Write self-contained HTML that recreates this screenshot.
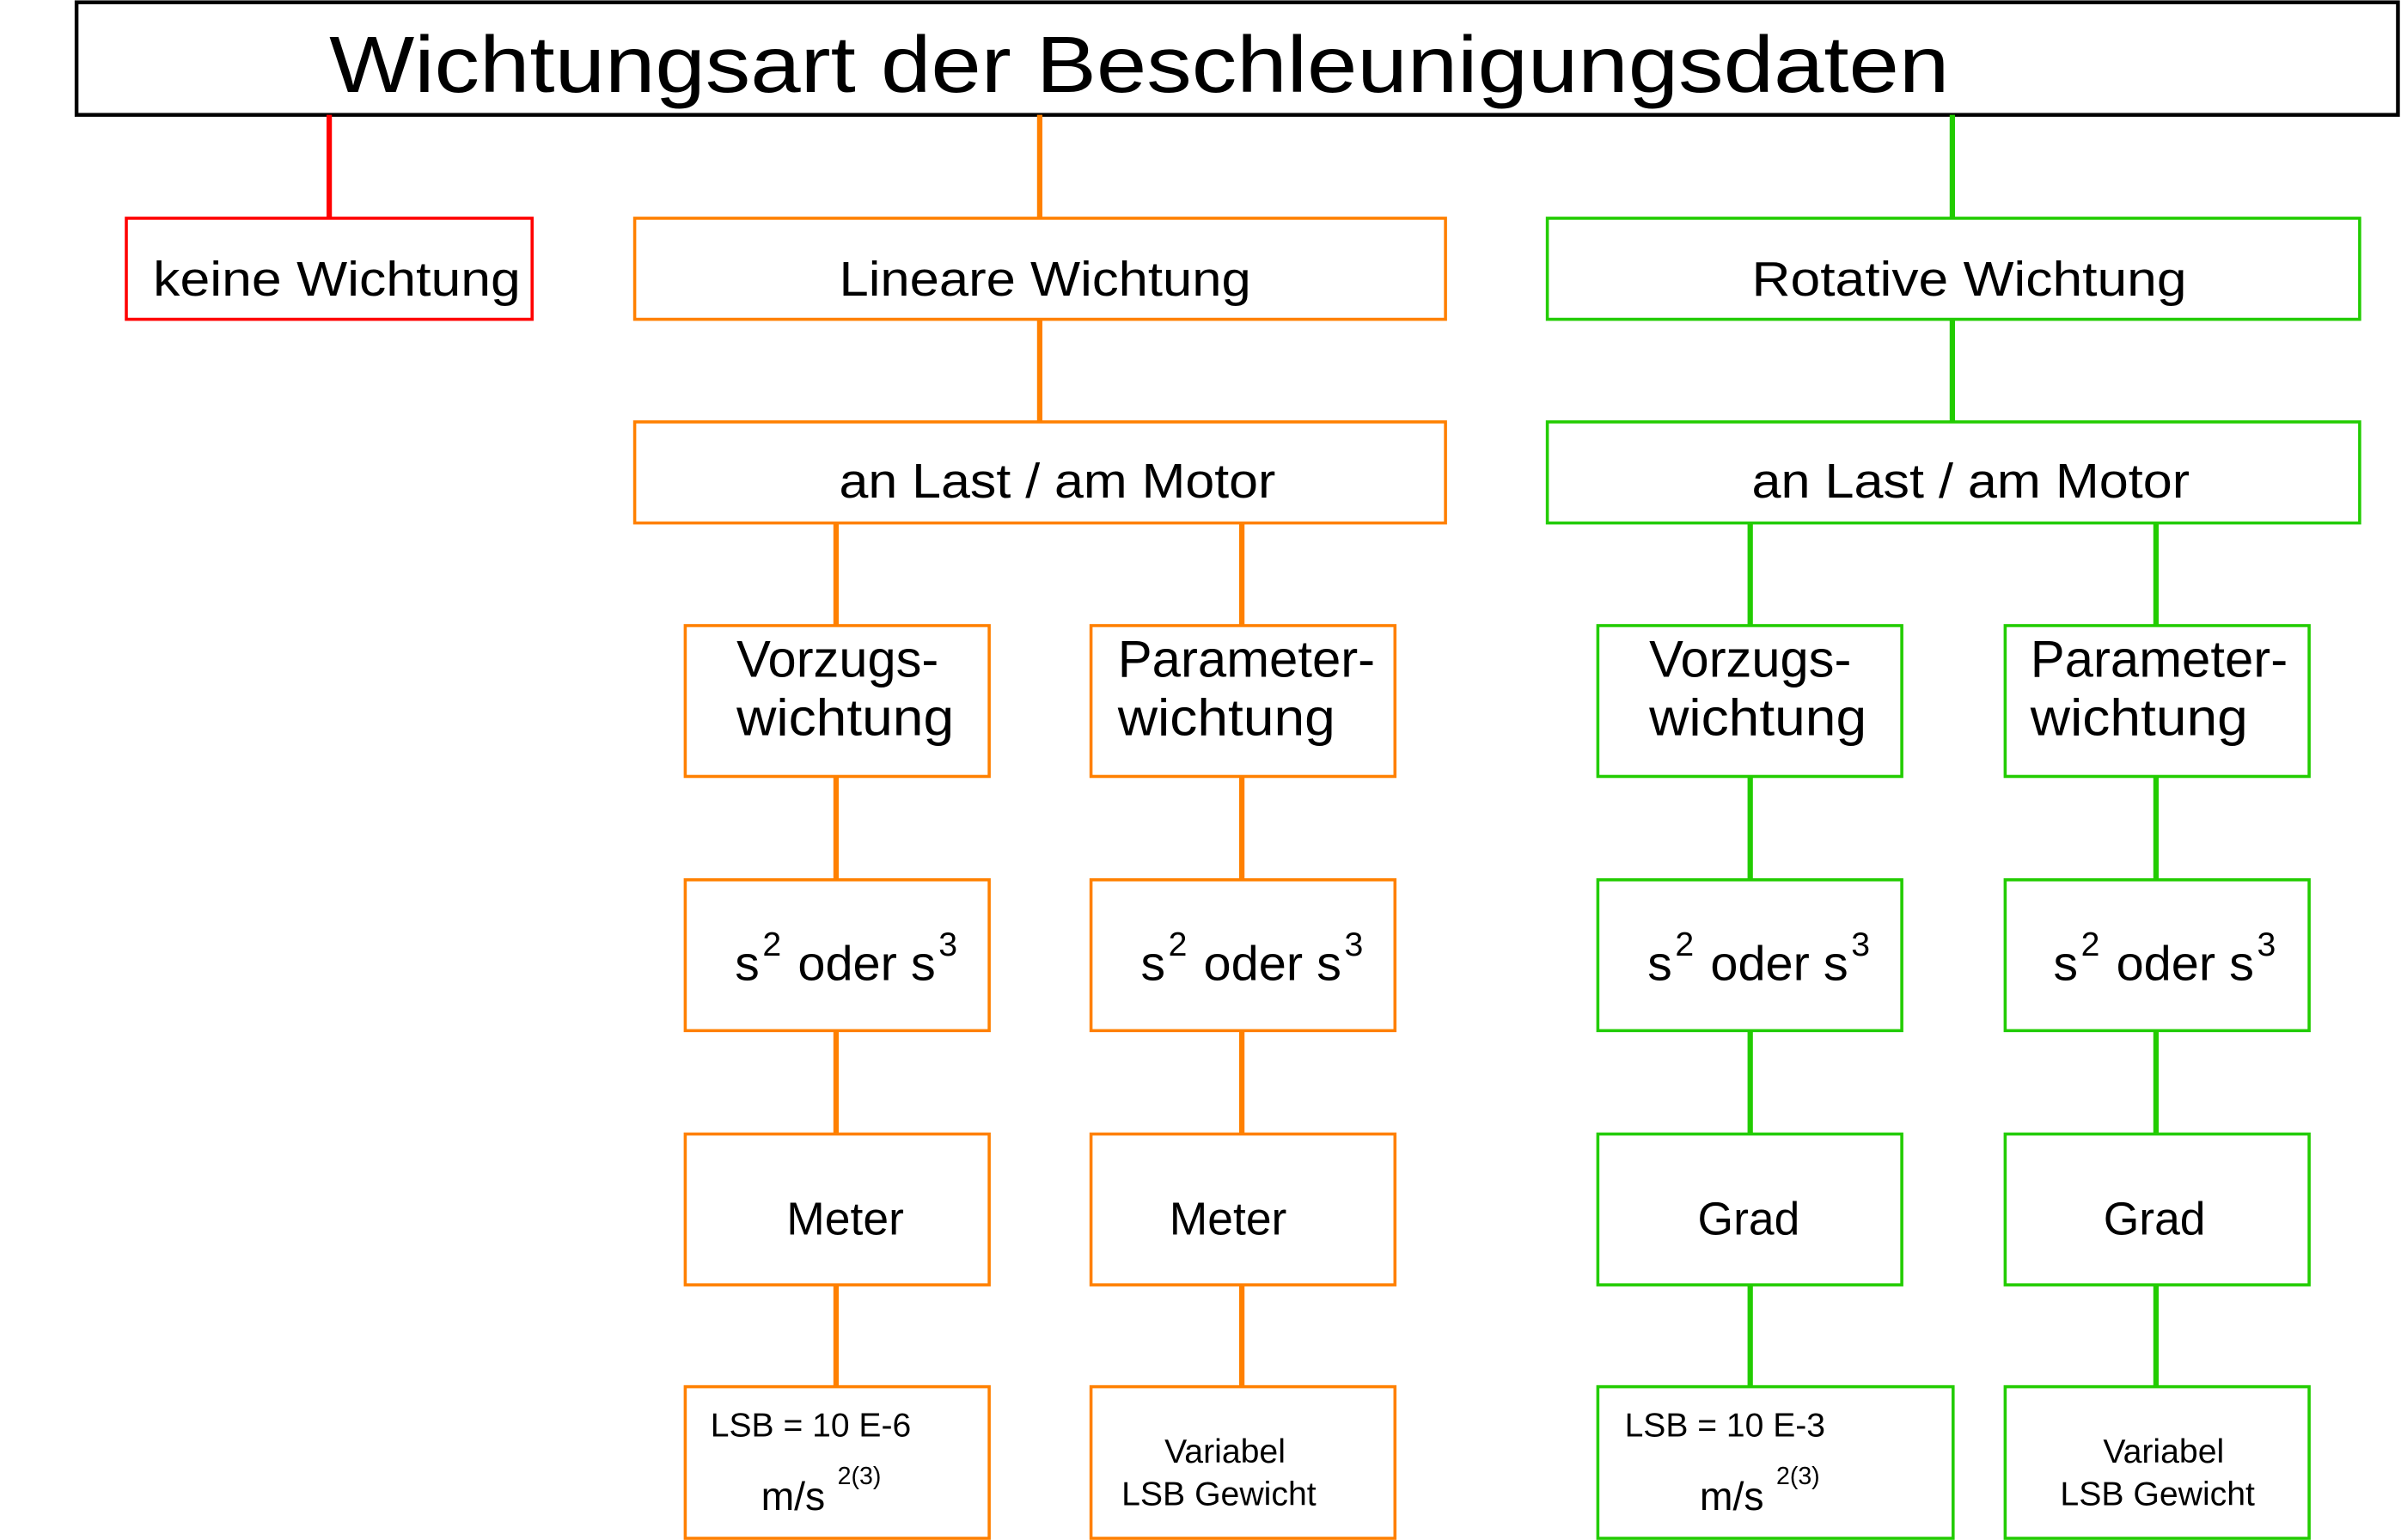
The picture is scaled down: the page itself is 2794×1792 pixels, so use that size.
<!DOCTYPE html>
<html><head><meta charset="utf-8"><style>html,body{margin:0;padding:0;background:#fff}svg{display:block}text{font-family:"Liberation Sans",sans-serif;fill:#000}</style></head>
<body>
<svg width="2794" height="1792" viewBox="0 0 1568 1005.6" preserveAspectRatio="none" xmlns="http://www.w3.org/2000/svg">
<rect x="50" y="1.5" width="1516" height="73.5" fill="none" stroke="#000" stroke-width="2.5"/>
<text x="215" y="60" font-size="52" textLength="1058" lengthAdjust="spacingAndGlyphs">Wichtungsart der Beschleunigungsdaten</text>

<g stroke="#ff0000" fill="none">
<line x1="215" y1="75" x2="215" y2="142" stroke-width="3.5"/>
<rect x="82.5" y="142.5" width="265" height="66" stroke-width="2"/>
</g>
<text x="100" y="193" font-size="32" textLength="240" lengthAdjust="spacingAndGlyphs">keine Wichtung</text>

<g stroke="#ff8000" fill="none">
<line x1="679" y1="75" x2="679" y2="142" stroke-width="3.5"/>
<rect x="414.5" y="142.5" width="529.5" height="66" stroke-width="2"/>
<line x1="679" y1="209" x2="679" y2="275" stroke-width="3.5"/>
<rect x="414.5" y="275.5" width="529.5" height="66" stroke-width="2"/>
<line x1="546" y1="341" x2="546" y2="905" stroke-width="3.5"/>
<line x1="811" y1="341" x2="811" y2="905" stroke-width="3.5"/>
</g>
<g stroke="#22cc00" fill="none">
<line x1="1275" y1="75" x2="1275" y2="142" stroke-width="3.5"/>
<rect x="1010.5" y="142.5" width="530.5" height="66" stroke-width="2"/>
<line x1="1275" y1="209" x2="1275" y2="275" stroke-width="3.5"/>
<rect x="1010.5" y="275.5" width="530.5" height="66" stroke-width="2"/>
<line x1="1143" y1="341" x2="1143" y2="905" stroke-width="3.5"/>
<line x1="1408" y1="341" x2="1408" y2="905" stroke-width="3.5"/>
</g>

<g fill="#fff" stroke-width="2">
<g stroke="#ff8000">
<rect x="447.5" y="408.5" width="198.5" height="98.5"/><rect x="712.5" y="408.5" width="198.5" height="98.5"/>
<rect x="447.5" y="574.5" width="198.5" height="98.5"/><rect x="712.5" y="574.5" width="198.5" height="98.5"/>
<rect x="447.5" y="740.5" width="198.5" height="98.5"/><rect x="712.5" y="740.5" width="198.5" height="98.5"/>
<rect x="447.5" y="905.5" width="198.5" height="99"/><rect x="712.5" y="905.5" width="198.5" height="99"/>
</g>
<g stroke="#22cc00">
<rect x="1043.5" y="408.5" width="198.5" height="98.5"/><rect x="1309.5" y="408.5" width="198.5" height="98.5"/>
<rect x="1043.5" y="574.5" width="198.5" height="98.5"/><rect x="1309.5" y="574.5" width="198.5" height="98.5"/>
<rect x="1043.5" y="740.5" width="198.5" height="98.5"/><rect x="1309.5" y="740.5" width="198.5" height="98.5"/>
<rect x="1043.5" y="905.5" width="232" height="99"/><rect x="1309.5" y="905.5" width="198.5" height="99"/>
</g>
</g>

<text x="548" y="193" font-size="32" textLength="269" lengthAdjust="spacingAndGlyphs">Lineare Wichtung</text>
<text x="548" y="325" font-size="32" textLength="285" lengthAdjust="spacingAndGlyphs">an Last / am Motor</text>
<text x="1144" y="193" font-size="32" textLength="284" lengthAdjust="spacingAndGlyphs">Rotative Wichtung</text>
<text x="1144" y="325" font-size="32" textLength="286" lengthAdjust="spacingAndGlyphs">an Last / am Motor</text>

<g font-size="34">
<text x="481" y="442" textLength="132" lengthAdjust="spacingAndGlyphs">Vorzugs-</text>
<text x="481" y="480" textLength="142" lengthAdjust="spacingAndGlyphs">wichtung</text>
<text x="730" y="442" textLength="168" lengthAdjust="spacingAndGlyphs">Parameter-</text>
<text x="730" y="480" textLength="142" lengthAdjust="spacingAndGlyphs">wichtung</text>
<text x="1077" y="442" textLength="132" lengthAdjust="spacingAndGlyphs">Vorzugs-</text>
<text x="1077" y="480" textLength="142" lengthAdjust="spacingAndGlyphs">wichtung</text>
<text x="1326" y="442" textLength="168" lengthAdjust="spacingAndGlyphs">Parameter-</text>
<text x="1326" y="480" textLength="142" lengthAdjust="spacingAndGlyphs">wichtung</text>
</g>

<g font-size="32">
<text x="480" y="640">s</text><text x="498" y="624" font-size="22">2</text><text x="521" y="640" textLength="90" lengthAdjust="spacingAndGlyphs">oder s</text><text x="613" y="624" font-size="22">3</text>
<text x="745" y="640">s</text><text x="763" y="624" font-size="22">2</text><text x="786" y="640" textLength="90" lengthAdjust="spacingAndGlyphs">oder s</text><text x="878" y="624" font-size="22">3</text>
<text x="1076" y="640">s</text><text x="1094" y="624" font-size="22">2</text><text x="1117" y="640" textLength="90" lengthAdjust="spacingAndGlyphs">oder s</text><text x="1209" y="624" font-size="22">3</text>
<text x="1341" y="640">s</text><text x="1359" y="624" font-size="22">2</text><text x="1382" y="640" textLength="90" lengthAdjust="spacingAndGlyphs">oder s</text><text x="1474" y="624" font-size="22">3</text>
</g>

<g font-size="30" text-anchor="middle">
<text x="552" y="806">Meter</text>
<text x="802" y="806">Meter</text>
<text x="1142" y="806">Grad</text>
<text x="1407" y="806">Grad</text>
</g>

<g font-size="22">
<text x="464" y="938" textLength="131" lengthAdjust="spacingAndGlyphs">LSB = 10 E-6</text>
<text x="497" y="986" font-size="26">m/s</text>
<text x="547" y="969" font-size="16">2(3)</text>
<text x="1061" y="938" textLength="131" lengthAdjust="spacingAndGlyphs">LSB = 10 E-3</text>
<text x="1110" y="986" font-size="26">m/s</text>
<text x="1160" y="969" font-size="16">2(3)</text>
<text x="800" y="955" text-anchor="middle">Variabel</text>
<text x="796" y="983" text-anchor="middle">LSB Gewicht</text>
<text x="1413" y="955" text-anchor="middle">Variabel</text>
<text x="1409" y="983" text-anchor="middle">LSB Gewicht</text>
</g>
</svg>
</body></html>
